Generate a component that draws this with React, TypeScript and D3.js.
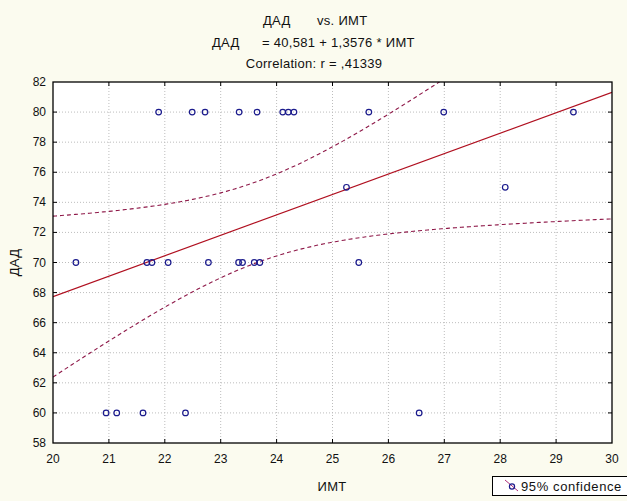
import React, { useEffect, useRef } from "react";
import * as d3 from "d3";

// ИМТ (x) and ДАД (y) pairs
const imt = [
  21.89, 22.49, 22.72, 23.33, 23.65, 24.11, 24.21, 24.31, 25.65, 26.99, 29.31,
  20.41, 21.68, 21.77, 22.06, 22.78, 23.32, 23.39, 23.6, 23.7, 25.47,
  25.25, 28.09,
  20.95, 21.14, 21.61, 22.37, 26.55,
];
const dad = [
  80, 80, 80, 80, 80, 80, 80, 80, 80, 80, 80,
  70, 70, 70, 70, 70, 70, 70, 70, 70, 70,
  75, 75,
  60, 60, 60, 60, 60,
];

const intercept = 40.581;
const slope = 1.3576;
const tCrit = 2.0555; // t(0.975, df = 26)

const xTicks = d3.range(20, 31, 1);
const yTicks = d3.range(58, 83, 2);

const titleLines = ["vs. ИМТ", "= 40,581 + 1,3576 * ИМТ", "Correlation: r = ,41339"];
const varName = "ДАД";
const xName = "ИМТ";
const legendLabel = "95% confidence";

const W = 627;
const H = 501;
const margin = { top: 82, right: 15, bottom: 58, left: 53 };

const App: React.FC = () => {
  const svgRef = useRef<SVGSVGElement | null>(null);

  useEffect(() => {
    document.body.style.margin = "0";
    if (!svgRef.current) return;
    const svg = d3.select(svgRef.current);
    svg.selectAll("*").remove();

    const x0 = margin.left;
    const x1 = W - margin.right;
    const y0 = margin.top;
    const y1 = H - margin.bottom;

    const x = d3.scaleLinear().domain([20, 30]).range([x0, x1]);
    const y = d3.scaleLinear().domain([58, 82]).range([y1, y0]);

    const font = "'Liberation Sans', Arial, sans-serif";

    svg.append("rect").attr("width", W).attr("height", H).attr("fill", "#fbfbef");
    svg
      .append("rect")
      .attr("x", x0)
      .attr("y", y0)
      .attr("width", x1 - x0)
      .attr("height", y1 - y0)
      .attr("fill", "#ffffff");

    // grid
    const grid = svg.append("g").attr("stroke", "#bdbdbd").attr("stroke-dasharray", "1,2");
    grid
      .selectAll("line.gx")
      .data(xTicks.slice(1, -1))
      .enter()
      .append("line")
      .attr("x1", (d) => x(d))
      .attr("x2", (d) => x(d))
      .attr("y1", y0)
      .attr("y2", y1);
    grid
      .selectAll("line.gy")
      .data(yTicks.slice(1, -1))
      .enter()
      .append("line")
      .attr("x1", x0)
      .attr("x2", x1)
      .attr("y1", (d) => y(d))
      .attr("y2", (d) => y(d));

    // confidence band from the data
    const n = imt.length;
    const mx = d3.mean(imt) || 0;
    const sxx = d3.sum(imt, (v) => (v - mx) * (v - mx));
    const sse = d3.sum(imt, (v, i) => {
      const r = dad[i] - (intercept + slope * v);
      return r * r;
    });
    const s = Math.sqrt(sse / (n - 2));
    const half = (v: number) => tCrit * s * Math.sqrt(1 / n + ((v - mx) * (v - mx)) / sxx);
    const xs = d3.range(20, 30.001, 0.05);

    svg
      .append("clipPath")
      .attr("id", "plotclip")
      .append("rect")
      .attr("x", x0)
      .attr("y", y0)
      .attr("width", x1 - x0)
      .attr("height", y1 - y0);

    const plot = svg.append("g").attr("clip-path", "url(#plotclip)");

    const bandLine = (sign: number) =>
      d3
        .line<number>()
        .x((v) => x(v))
        .y((v) => y(intercept + slope * v + sign * half(v)));

    [1, -1].forEach((sign) => {
      plot
        .append("path")
        .datum(xs)
        .attr("d", bandLine(sign))
        .attr("fill", "none")
        .attr("stroke", "#8e1848")
        .attr("stroke-width", 1.1)
        .attr("stroke-dasharray", "4,3");
    });

    plot
      .append("line")
      .attr("x1", x(20))
      .attr("x2", x(30))
      .attr("y1", y(intercept + slope * 20))
      .attr("y2", y(intercept + slope * 30))
      .attr("stroke", "#b01020")
      .attr("stroke-width", 1.2);

    plot
      .selectAll("circle.pt")
      .data(imt)
      .enter()
      .append("circle")
      .attr("cx", (d) => x(d))
      .attr("cy", (d, i) => y(dad[i]))
      .attr("r", 2.8)
      .attr("fill", "none")
      .attr("stroke", "#1a1a8c")
      .attr("stroke-width", 1.2);

    // frame + inside ticks
    svg
      .append("rect")
      .attr("x", x0)
      .attr("y", y0)
      .attr("width", x1 - x0)
      .attr("height", y1 - y0)
      .attr("fill", "none")
      .attr("stroke", "#000")
      .attr("stroke-width", 1.3);

    const tl = 4;
    const ticks = svg.append("g").attr("stroke", "#000").attr("stroke-width", 1);
    xTicks.slice(1, -1).forEach((d) => {
      ticks.append("line").attr("x1", x(d)).attr("x2", x(d)).attr("y1", y1).attr("y2", y1 - tl);
      ticks.append("line").attr("x1", x(d)).attr("x2", x(d)).attr("y1", y0).attr("y2", y0 + tl);
    });
    yTicks.slice(1, -1).forEach((d) => {
      ticks.append("line").attr("x1", x0).attr("x2", x0 + tl).attr("y1", y(d)).attr("y2", y(d));
      ticks.append("line").attr("x1", x1).attr("x2", x1 - tl).attr("y1", y(d)).attr("y2", y(d));
    });

    const labels = svg.append("g").attr("font-family", font).attr("font-size", 12).attr("fill", "#111");
    labels
      .selectAll("text.xt")
      .data(xTicks)
      .enter()
      .append("text")
      .attr("x", (d) => x(d))
      .attr("y", y1 + 20)
      .attr("text-anchor", "middle")
      .text((d) => String(d));
    labels
      .selectAll("text.yt")
      .data(yTicks)
      .enter()
      .append("text")
      .attr("x", x0 - 7)
      .attr("y", (d) => y(d) + 4)
      .attr("text-anchor", "end")
      .text((d) => String(d));

    const big = svg
      .append("g")
      .attr("font-family", font)
      .attr("font-size", 13)
      .attr("letter-spacing", 0.3)
      .attr("fill", "#111");

    big.append("text").attr("x", 332).attr("y", 491).attr("text-anchor", "middle").text(xName);
    big
      .append("text")
      .attr("transform", `translate(19, ${(y0 + y1) / 2}) rotate(-90)`)
      .attr("text-anchor", "middle")
      .text(varName);

    // titles
    big.append("text").attr("x", 263).attr("y", 25).text(varName);
    big.append("text").attr("x", 317).attr("y", 25).text(titleLines[0]);
    big.append("text").attr("x", 212).attr("y", 47).text(varName);
    big.append("text").attr("x", 262).attr("y", 47).text(titleLines[1]);
    big.append("text").attr("x", 314).attr("y", 68).attr("text-anchor", "middle").text(titleLines[2]);

    // legend
    const lg = svg.append("g");
    lg.append("rect")
      .attr("x", 492.5)
      .attr("y", 476.5)
      .attr("width", 140)
      .attr("height", 19)
      .attr("fill", "#ffffff")
      .attr("stroke", "#000");
    lg.append("line")
      .attr("x1", 505)
      .attr("y1", 480)
      .attr("x2", 518)
      .attr("y2", 491)
      .attr("stroke", "#b0307a")
      .attr("stroke-width", 1);
    lg.append("circle").attr("cx", 512).attr("cy", 486.5).attr("r", 2.6).attr("fill", "none").attr("stroke", "#1a1a8c").attr("stroke-width", 1.2);
    lg.append("text")
      .attr("x", 521)
      .attr("y", 491)
      .attr("font-family", font)
      .attr("font-size", 13)
      .attr("letter-spacing", 0.6)
      .attr("fill", "#111")
      .text(legendLabel);
  }, []);

  return <svg ref={svgRef} width={W} height={H} style={{ display: "block" }}></svg>;
};

export default App;
